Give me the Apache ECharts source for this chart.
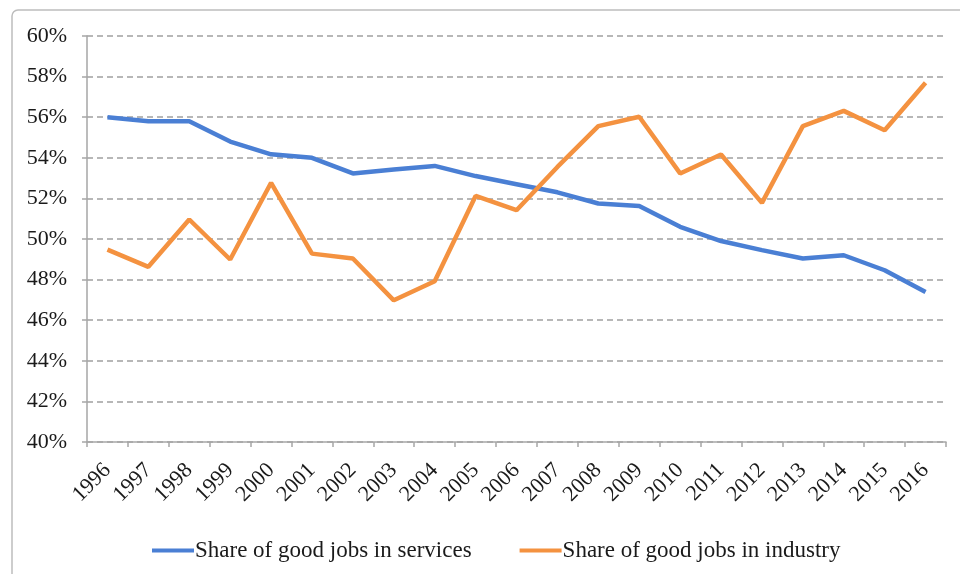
<!DOCTYPE html>
<html>
<head>
<meta charset="utf-8">
<script src="https://cdn.jsdelivr.net/npm/echarts@6/dist/echarts.min.js"></script>
<style>
html,body{margin:0;padding:0;background:#fff;}
#c{width:960px;height:574px;}
</style>
</head>
<body>
<div id="c"></div>
<script>
const years = ['1996','1997','1998','1999','2000','2001','2002','2003','2004','2005','2006','2007','2008','2009','2010','2011','2012','2013','2014','2015','2016'];
const services = [56.0,55.8,55.8,54.8,54.17,54.0,53.23,53.42,53.6,53.1,52.7,52.3,51.75,51.63,50.6,49.9,49.45,49.04,49.2,48.46,47.39];
const industry = [49.48,48.63,50.96,48.99,52.77,49.28,49.04,46.98,47.92,52.12,51.42,53.55,55.56,56.02,53.23,54.16,51.78,55.56,56.31,55.36,57.7];
const seriesNames = ['Share of good jobs in services','Share of good jobs in industry'];
const yMin = 40, yMax = 60, yStep = 2;

const serif = '"Liberation Serif","DejaVu Serif",serif';
const chart = echarts.init(document.getElementById('c'));
chart.setOption({
  animation:false,
  backgroundColor:'#fff',
  graphic:[{
    type:'rect',
    shape:{x:12,y:10,width:1000,height:700,r:6},
    style:{fill:'none',stroke:'#bdbdbd',lineWidth:1.5},
    silent:true
  }],
  grid:{left:87,right:14,top:36,bottom:132},
  legend:{
    left:147, top:534,
    itemWidth:42, itemHeight:4, itemGap:48,
    icon:'rect',
    textStyle:{fontFamily:serif,fontSize:23,color:'#1a1a1a',padding:[0,0,0,-4]},
    data:seriesNames
  },
  xAxis:{
    type:'category',
    data:years,
    boundaryGap:true,
    axisLine:{lineStyle:{color:'#a6a6a6',width:1.5}},
    axisTick:{show:true,length:5,alignWithLabel:false,lineStyle:{color:'#a6a6a6',width:1.5}},
    axisLabel:{rotate:45,fontFamily:serif,fontSize:22,color:'#1a1a1a',margin:25,interval:0}
  },
  yAxis:{
    type:'value',
    min:yMin,max:yMax,interval:yStep,
    axisLine:{show:true,lineStyle:{color:'#a6a6a6',width:1.5}},
    axisTick:{show:true,length:5,lineStyle:{color:'#a6a6a6',width:1.5}},
    axisLabel:{formatter:'{value}%',fontFamily:serif,fontSize:22,color:'#1a1a1a',margin:20},
    splitLine:{show:true,lineStyle:{color:'#a0a0a0',type:[6,4],width:1.5}}
  },
  series:[
    {name:seriesNames[0],type:'line',data:services,showSymbol:false,symbol:'none',
     lineStyle:{color:'#4a7fd4',width:4.5},itemStyle:{color:'#4a7fd4'}},
    {name:seriesNames[1],type:'line',data:industry,showSymbol:false,symbol:'none',
     lineStyle:{color:'#f49240',width:4.5},itemStyle:{color:'#f49240'}}
  ]
});
</script>
</body>
</html>
